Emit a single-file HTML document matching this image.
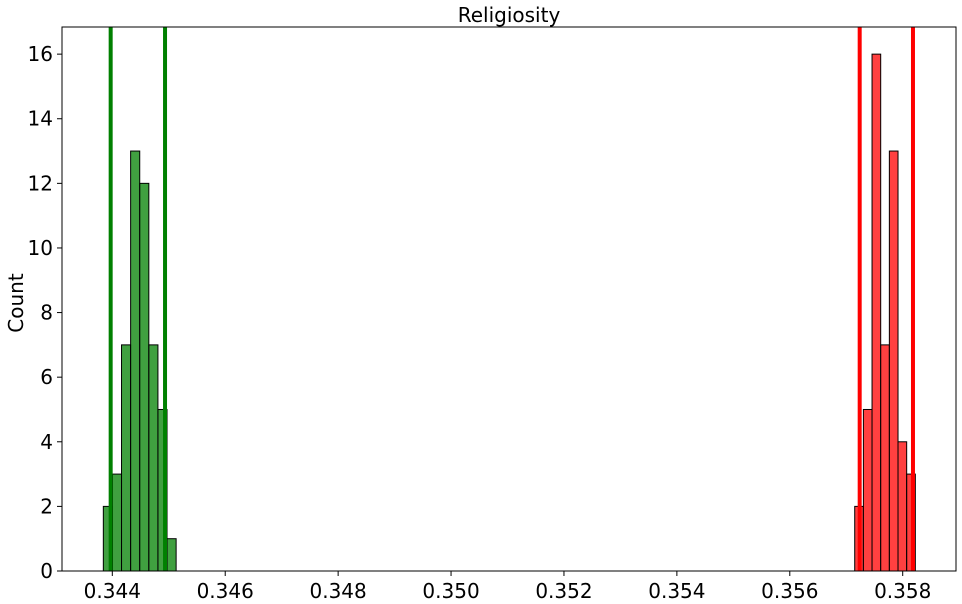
<!DOCTYPE html>
<html><head><meta charset="utf-8"><style>
html,body{margin:0;padding:0;background:#fff;}
svg{display:block;font-family:"DejaVu Sans","Liberation Sans",sans-serif;}
</style></head><body>
<svg id="chart" width="962" height="604" xmlns="http://www.w3.org/2000/svg">
<text x="509" y="22" font-size="20" text-anchor="middle">Religiosity</text>
<text transform="translate(23,303) rotate(-90)" font-size="20" text-anchor="middle">Count</text>
<g id="marks"></g>
<g id="axes"></g>
</svg>
<script>
const greenStart = 0.343841;
const greenWidth = 0.0001612;
const greenCounts = [2, 3, 7, 13, 12, 7, 5, 1];
const greenLines = [0.343971, 0.344934];
const redStart = 0.35715;
const redWidth = 0.0001534;
const redCounts = [2, 5, 16, 7, 13, 4, 3];
const redLines = [0.357238, 0.358182];
const xTicks = [0.344, 0.346, 0.348, 0.350, 0.352, 0.354, 0.356, 0.358];
const yTicks = [0, 2, 4, 6, 8, 10, 12, 14, 16];

const L = 62, R = 956, T = 27, B = 571;
const xMin = 0.343109, xMax = 0.358944, yMax = 16.84;
const sx = v => L + (v - xMin) / (xMax - xMin) * (R - L);
const sy = v => B - v / yMax * (B - T);
const NS = "http://www.w3.org/2000/svg";
const marks = document.getElementById('marks');
const axes = document.getElementById('axes');
function mk(tag, attrs, parent) {
  const e = document.createElementNS(NS, tag);
  for (const k in attrs) e.setAttribute(k, attrs[k]);
  parent.appendChild(e);
  return e;
}
function bars(start, w, counts, fill, name) {
  counts.forEach((c, i) => {
    const x0 = sx(start + i * w), x1 = sx(start + (i + 1) * w);
    const r = mk('rect', {x: x0, y: sy(c), width: x1 - x0, height: sy(0) - sy(c), fill: fill, stroke: '#000', 'stroke-width': 1}, marks);
    
    
  });
}
bars(greenStart, greenWidth, greenCounts, 'rgba(0,128,0,0.75)', 'green');
bars(redStart, redWidth, redCounts, 'rgba(255,0,0,0.75)', 'red');
function vlines(vals, color, name) {
  vals.forEach((v, i) => {
    const l = mk('line', {x1: sx(v), x2: sx(v), y1: T, y2: B, stroke: color, 'stroke-width': 4}, marks);
    
    
  });
}
vlines(greenLines, '#008000', 'green');
vlines(redLines, '#ff0000', 'red');

const frame = mk('rect', {x: L, y: T, width: R - L, height: B - T, fill: 'none', stroke: '#000', 'stroke-width': 1}, axes);


xTicks.forEach(v => {
  const x = sx(v);
  mk('line', {x1: x, x2: x, y1: B, y2: B + 5, stroke: '#000'}, axes);
  const t = mk('text', {x: x, y: B + 27, 'font-size': 20, 'text-anchor': 'middle'}, axes);
  t.textContent = v.toFixed(3);
  
  
});
yTicks.forEach(v => {
  const y = sy(v);
  mk('line', {x1: L - 5, x2: L, y1: y, y2: y, stroke: '#000'}, axes);
  const t = mk('text', {x: L - 9, y: y + 7, 'font-size': 20, 'text-anchor': 'end'}, axes);
  t.textContent = v;
  
  
});
</script>
</body></html>
